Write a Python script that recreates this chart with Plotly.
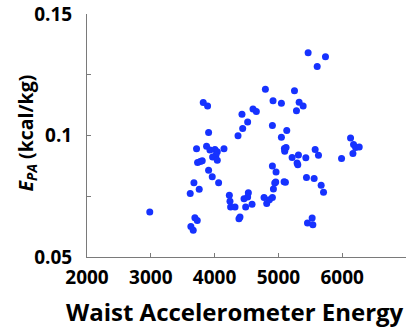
import plotly.graph_objects as go

waist_energy = [2984, 3628, 3665, 3691, 3728, 3618, 3676, 3759, 3717, 3733, 3775, 3806,
                3822, 3890, 3906, 3874, 3927, 4005, 4042, 4021, 3969, 4042, 4147, 3906,
                3963, 4063, 4231, 4241, 4251, 4320, 4398, 4382, 4461, 4487, 4529, 4518,
                4587, 4367, 4440, 4429, 4518, 4602, 4654, 4796, 4916, 5047, 4906, 5047,
                5131, 5094, 5120, 5099, 5215, 5314, 5293, 5304, 5430, 5252, 5325, 5388,
                5283, 5466, 5608, 5738, 5576, 5628, 5440, 5560, 5670, 5707, 5456, 5529,
                5540, 5990, 6131, 6178, 6210, 6267, 6168, 4906, 4963, 4943, 4958, 4922,
                4906, 4775, 4817, 4859, 5089, 5110]
epa = [0.0685, 0.0626, 0.0610, 0.0662, 0.0650, 0.0761, 0.0806, 0.0779, 0.0945, 0.0889, 0.0893, 0.0896,
       0.1136, 0.1121, 0.1012, 0.0956, 0.0940, 0.0942, 0.0933, 0.0919, 0.0912, 0.0898, 0.0945, 0.0857,
       0.0830, 0.0806, 0.0754, 0.0729, 0.0706, 0.0706, 0.0665, 0.0657, 0.0740, 0.0706, 0.0764, 0.0747,
       0.0717, 0.0999, 0.1029, 0.1087, 0.1056, 0.1109, 0.1099, 0.1190, 0.1143, 0.1133, 0.1041, 0.0993,
       0.1021, 0.0946, 0.0951, 0.0935, 0.0909, 0.0920, 0.0887, 0.0880, 0.0908, 0.1184, 0.1137, 0.1121,
       0.1102, 0.1341, 0.1284, 0.1324, 0.0942, 0.0919, 0.0827, 0.0823, 0.0795, 0.0766, 0.0640, 0.0661,
       0.0633, 0.0905, 0.0990, 0.0963, 0.0951, 0.0953, 0.0926, 0.0874, 0.0850, 0.0805, 0.0809, 0.0780,
       0.0745, 0.0745, 0.0720, 0.0736, 0.0810, 0.0808]

x_tickvals = [2000, 3000, 4000, 5000, 6000, 7000]
x_ticktext = ["2000", "3000", "4000", "5000", "6000", ""]
y_tickvals = [0.05, 0.075, 0.1, 0.125, 0.15]
y_ticktext = ["0.05", "", "0.1", "", "0.15"]

FONT = "Open Sans"

fig = go.Figure()
fig.add_trace(go.Scatter(
    x=waist_energy, y=epa, mode="markers",
    marker=dict(color="#1632ff", size=7, line=dict(width=0)),
    showlegend=False, cliponaxis=False,
))

axis_common = dict(
    showline=True, linecolor="#7a7a7a", linewidth=1, mirror=False,
    showgrid=False, zeroline=False, ticks="inside", ticklen=4,
    tickcolor="#7a7a7a", tickwidth=1, automargin=False,
    ticklabeloverflow="allow",
    tickfont=dict(family=FONT, size=19, color="black", weight="bold"),
)

fig.update_xaxes(range=[2000, 7000], tickmode="array", tickvals=x_tickvals,
                 ticktext=x_ticktext, ticklabelstandoff=3, **axis_common)
fig.update_yaxes(range=[0.05, 0.15], tickmode="array", tickvals=y_tickvals,
                 ticktext=y_ticktext, ticklabelstandoff=10, **axis_common)

fig.add_annotation(
    text="<i>E</i><sub><i>PA</i></sub> (kcal/kg)", xref="paper", yref="paper",
    x=-0.19, y=0.51, xanchor="center", yanchor="middle", textangle=-90,
    showarrow=False, font=dict(family=FONT, size=19.5, color="black", weight="bold"),
)
fig.add_annotation(
    text="Waist Accelerometer Energy", xref="paper", yref="paper",
    x=0.464, y=-0.226, xanchor="center", yanchor="middle",
    showarrow=False, font=dict(family=FONT, size=24, color="black", weight="bold"),
)

fig.update_layout(
    width=411, height=327,
    margin=dict(l=87, r=5, t=14, b=70, autoexpand=False),
    paper_bgcolor="white", plot_bgcolor="white",
)

fig.write_html("out.html", config={"displayModeBar": False},
               post_script="document.body.style.margin='0';")
